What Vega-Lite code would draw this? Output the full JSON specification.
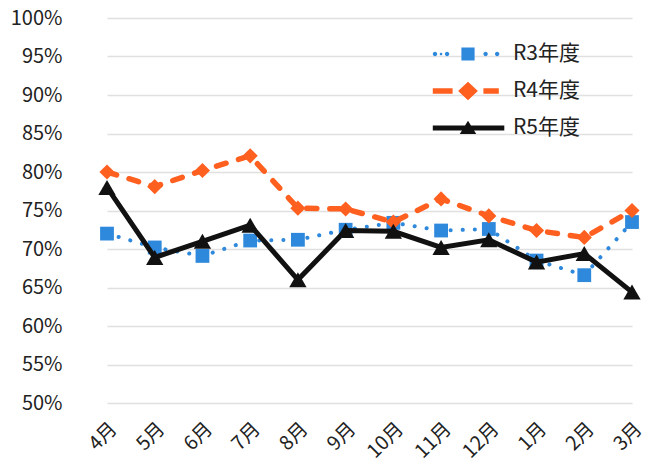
{
  "$schema": "https://vega.github.io/schema/vega-lite/v6.json",
  "width": 578,
  "height": 385,
  "autosize": "none",
  "padding": {"left": 70, "top": 18, "right": 0, "bottom": 59},
  "background": "white",
  "config": {"view": {"stroke": null}, "font": "Noto Sans CJK JP"},
  "title": {
    "text": "（R3～R5年度）",
    "fontSize": 25,
    "fontWeight": "normal",
    "color": "#222222",
    "anchor": "start",
    "frame": "group",
    "dx": 80,
    "offset": 3,
    "baseline": "alphabetic"
  },
  "data": {
    "values": [
      {"month": "4月", "series": "R3年度", "value": 72.0},
      {"month": "5月", "series": "R3年度", "value": 70.2},
      {"month": "6月", "series": "R3年度", "value": 69.1},
      {"month": "7月", "series": "R3年度", "value": 71.1},
      {"month": "8月", "series": "R3年度", "value": 71.2},
      {"month": "9月", "series": "R3年度", "value": 72.5},
      {"month": "10月", "series": "R3年度", "value": 73.4},
      {"month": "11月", "series": "R3年度", "value": 72.4},
      {"month": "12月", "series": "R3年度", "value": 72.6},
      {"month": "1月", "series": "R3年度", "value": 68.5},
      {"month": "2月", "series": "R3年度", "value": 66.6},
      {"month": "3月", "series": "R3年度", "value": 73.5},
      {"month": "4月", "series": "R4年度", "value": 80.0},
      {"month": "5月", "series": "R4年度", "value": 78.1},
      {"month": "6月", "series": "R4年度", "value": 80.2},
      {"month": "7月", "series": "R4年度", "value": 82.1},
      {"month": "8月", "series": "R4年度", "value": 75.3},
      {"month": "9月", "series": "R4年度", "value": 75.2},
      {"month": "10月", "series": "R4年度", "value": 73.5},
      {"month": "11月", "series": "R4年度", "value": 76.5},
      {"month": "12月", "series": "R4年度", "value": 74.3},
      {"month": "1月", "series": "R4年度", "value": 72.4},
      {"month": "2月", "series": "R4年度", "value": 71.5},
      {"month": "3月", "series": "R4年度", "value": 75.0},
      {"month": "4月", "series": "R5年度", "value": 78.0},
      {"month": "5月", "series": "R5年度", "value": 68.9},
      {"month": "6月", "series": "R5年度", "value": 71.0},
      {"month": "7月", "series": "R5年度", "value": 73.1},
      {"month": "8月", "series": "R5年度", "value": 66.0},
      {"month": "9月", "series": "R5年度", "value": 72.4},
      {"month": "10月", "series": "R5年度", "value": 72.3},
      {"month": "11月", "series": "R5年度", "value": 70.2},
      {"month": "12月", "series": "R5年度", "value": 71.2},
      {"month": "1月", "series": "R5年度", "value": 68.3},
      {"month": "2月", "series": "R5年度", "value": 69.4},
      {"month": "3月", "series": "R5年度", "value": 64.4}
    ]
  },
  "encoding": {
    "x": {
      "field": "month",
      "type": "ordinal",
      "sort": ["4月", "5月", "6月", "7月", "8月", "9月", "10月", "11月", "12月", "1月", "2月", "3月"],
      "scale": {"type": "point", "range": [37, 562], "padding": 0},
      "axis": {
        "title": null,
        "labelAngle": -45,
        "labelFontSize": 19.5,
        "labelColor": "#222222",
        "labelPadding": 16,
        "domain": false,
        "ticks": false,
        "grid": false
      }
    },
    "y": {
      "field": "value",
      "type": "quantitative",
      "scale": {"domain": [50, 100], "nice": false, "zero": false},
      "axis": {
        "title": null,
        "values": [50, 55, 60, 65, 70, 75, 80, 85, 90, 95, 100],
        "labelExpr": "datum.value + '%'",
        "labelFontSize": 20,
        "labelColor": "#222222",
        "labelPadding": 8,
        "domain": false,
        "ticks": false,
        "grid": true,
        "gridColor": "#e0e0e0",
        "gridWidth": 1.5
      }
    }
  },
  "layer": [
    {
      "mark": {"type": "point", "filled": true, "opacity": 0},
      "encoding": {
        "color": {
          "field": "series",
          "type": "nominal",
          "scale": {"domain": ["R3年度", "R4年度", "R5年度"], "range": ["#2E88DB", "#FF5F1F", "#111111"]},
          "legend": {
            "title": null,
            "orient": "none",
            "legendX": 387,
            "legendY": 25,
            "padding": 0,
            "symbolSize": 484,
            "symbolOpacity": 1,
            "symbolStrokeWidth": 0,
            "labelFontSize": 21,
            "labelColor": "#222222",
            "labelOffset": 34,
            "rowPadding": 16,
            "labelBaseline": "middle"
          }
        },
        "shape": {
          "field": "series",
          "type": "nominal",
          "scale": {
            "domain": ["R3年度", "R4年度", "R5年度"],
            "range": [
              "M-3.2,0A0.2,0.2 0 1,0 -2.8,0A0.2,0.2 0 1,0 -3.2,0Z M-2.57,0A0.12,0.12 0 1,0 -2.33,0A0.12,0.12 0 1,0 -2.57,0Z M-2.1,0A0.2,0.2 0 1,0 -1.7,0A0.2,0.2 0 1,0 -2.1,0Z M-0.6,-0.6H0.6V0.6H-0.6Z M1.4,0A0.2,0.2 0 1,0 1.8,0A0.2,0.2 0 1,0 1.4,0Z M2.45,0A0.2,0.2 0 1,0 2.85,0A0.2,0.2 0 1,0 2.45,0Z",
              "M-3.2,-0.25H-1.4V0.25H-3.2Z M0,-0.85L0.9,0L0,0.85L-0.9,0Z M1.4,-0.25H2.8V0.25H1.4Z",
              "M-3.2,-0.23H3.3V0.23H-3.2Z M0,-0.65L0.75,0.55L-0.75,0.55Z"
            ]
          },
          "legend": {
            "title": null,
            "orient": "none",
            "legendX": 387,
            "legendY": 25,
            "padding": 0,
            "symbolSize": 484,
            "symbolOpacity": 1,
            "symbolStrokeWidth": 0,
            "labelFontSize": 21,
            "labelColor": "#222222",
            "labelOffset": 34,
            "rowPadding": 16,
            "labelBaseline": "middle"
          }
        }
      }
    },
    {
      "transform": [{"filter": "datum.series === 'R3年度'"}],
      "mark": {"type": "line", "color": "#2E88DB", "strokeWidth": 4, "strokeDash": [0.1, 12], "strokeCap": "round"},
      "encoding": {}
    },
    {
      "transform": [{"filter": "datum.series === 'R3年度'"}],
      "mark": {"type": "point", "filled": true, "opacity": 1, "shape": "square", "size": 190, "color": "#2E88DB"}
    },
    {
      "transform": [{"filter": "datum.series === 'R4年度'"}],
      "mark": {"type": "line", "color": "#FF5F1F", "strokeWidth": 5.5, "strokeDash": [10, 13], "strokeCap": "round"},
      "encoding": {}
    },
    {
      "transform": [{"filter": "datum.series === 'R4年度'"}],
      "mark": {"type": "point", "filled": true, "opacity": 1, "shape": "diamond", "size": 230, "color": "#FF5F1F"}
    },
    {
      "transform": [{"filter": "datum.series === 'R5年度'"}],
      "mark": {"type": "line", "color": "#111111", "strokeWidth": 5, "strokeJoin": "miter"},
      "encoding": {}
    },
    {
      "transform": [{"filter": "datum.series === 'R5年度'"}],
      "mark": {"type": "point", "filled": true, "opacity": 1, "shape": "triangle-up", "size": 300, "color": "#111111"}
    }
  ]
}
